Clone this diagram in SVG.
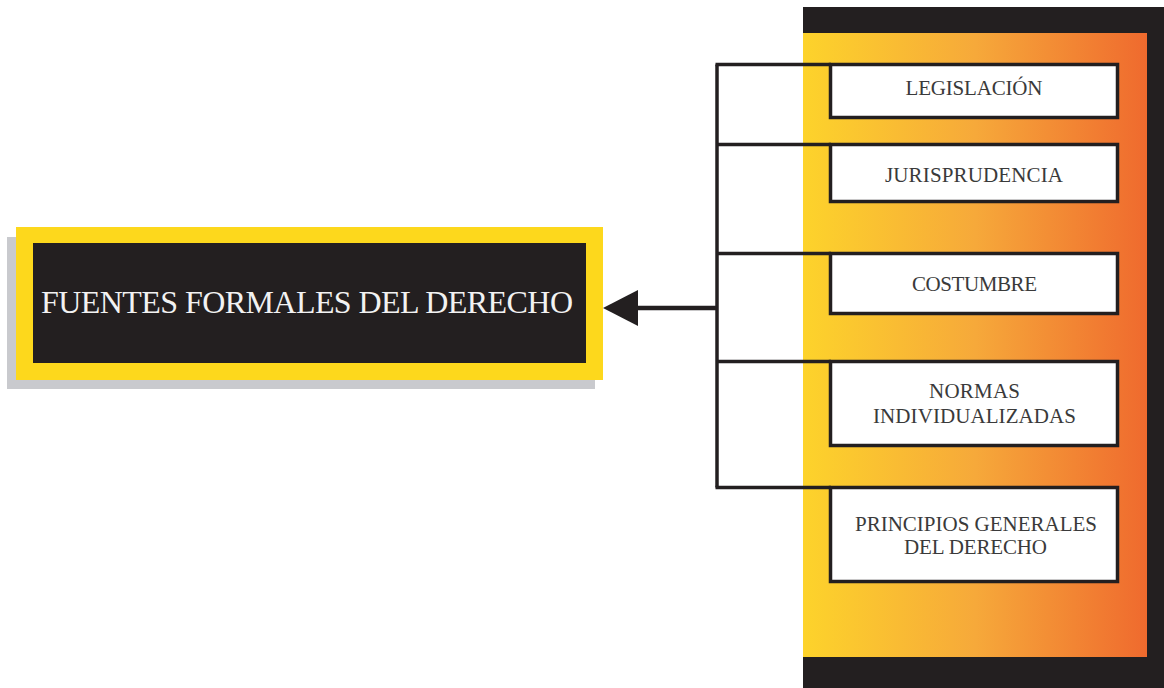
<svg xmlns="http://www.w3.org/2000/svg" width="1164" height="688" viewBox="0 0 1164 688">
<defs>
<linearGradient id="grad" x1="0" y1="0" x2="1" y2="0">
<stop offset="0" stop-color="#FDD32B"/>
<stop offset="0.5" stop-color="#F6A93A"/>
<stop offset="1" stop-color="#EF6A2E"/>
</linearGradient>
<marker id="arrow" markerUnits="userSpaceOnUse" markerWidth="35" markerHeight="36" viewBox="0 0 35 36" refX="8" refY="18" orient="auto">
<path d="M0,0 L35,18 L0,36 Z" fill="#231F20"/>
</marker>
<style>
.box{fill:#ffffff;stroke:#231F20;stroke-width:3.5}
.lbl{font-family:"Liberation Serif","DejaVu Serif",serif;font-size:21px;fill:#3a3a3a;text-anchor:middle}
.conn{stroke:#231F20;stroke-width:3.5;fill:none}
</style>
</defs>
<rect width="1164" height="688" fill="#ffffff"/>
<g id="panel">
<rect x="803" y="7" width="361" height="681" fill="#231F20"/>
<rect x="803" y="33" width="344" height="624" fill="url(#grad)"/>
</g>
<g id="connectors">
<line class="conn" x1="717" y1="64.5" x2="717" y2="487.5"/>
<line class="conn" x1="715.5" y1="64.5" x2="831" y2="64.5"/>
<line class="conn" x1="717" y1="144.5" x2="831" y2="144.5"/>
<line class="conn" x1="717" y1="253.5" x2="831" y2="253.5"/>
<line class="conn" x1="717" y1="361.5" x2="831" y2="361.5"/>
<line class="conn" x1="715.5" y1="487.5" x2="831" y2="487.5"/>
<line x1="717" y1="308" x2="630" y2="308" stroke="#231F20" stroke-width="4.5" marker-end="url(#arrow)"/>
</g>
<g id="main">
<rect x="7" y="237" width="588" height="152" fill="#C9CACE"/>
<rect x="16" y="227" width="587" height="153" fill="#FDD81C"/>
<rect x="33" y="243" width="553" height="120" fill="#231F20"/>
<text x="307" y="313" font-family="'Liberation Serif','DejaVu Serif',serif" font-size="32" fill="#F2F2F2" text-anchor="middle" textLength="532">FUENTES FORMALES DEL DERECHO</text>
</g>
<g id="legislacion">
<rect class="box" x="830.5" y="64.5" width="287" height="53"/>
<text class="lbl" x="974" y="95" textLength="137">LEGISLACIÓN</text>
</g>
<g id="jurisprudencia">
<rect class="box" x="830.5" y="144.5" width="287" height="57"/>
<text class="lbl" x="974" y="182" textLength="178">JURISPRUDENCIA</text>
</g>
<g id="costumbre">
<rect class="box" x="830.5" y="253.5" width="287" height="60"/>
<text class="lbl" x="974.5" y="291" textLength="125">COSTUMBRE</text>
</g>
<g id="normas">
<rect class="box" x="830.5" y="361.5" width="287" height="84"/>
<text class="lbl" x="974.5" y="398" textLength="91">NORMAS</text>
<text class="lbl" x="974.5" y="423" textLength="203">INDIVIDUALIZADAS</text>
</g>
<g id="principios">
<rect class="box" x="830.5" y="487.5" width="287" height="94"/>
<text class="lbl" x="976" y="531" textLength="242">PRINCIPIOS GENERALES</text>
<text class="lbl" x="975.5" y="554" textLength="143">DEL DERECHO</text>
</g>
</svg>
